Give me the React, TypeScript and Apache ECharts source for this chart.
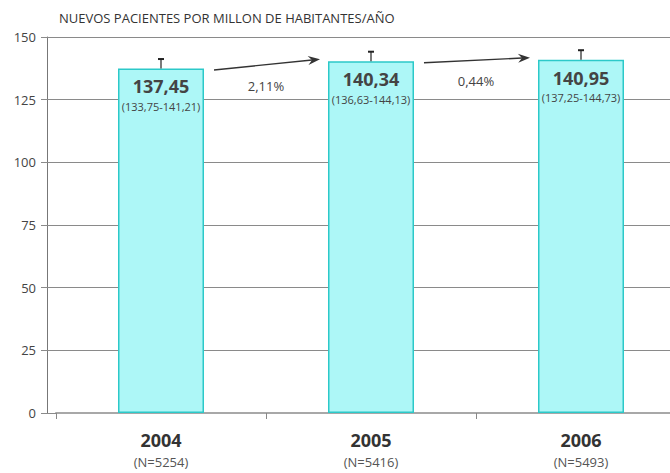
import React, { useEffect, useRef } from "react";
import * as echarts from "echarts";

const years = ["2004", "2005", "2006"];
const nCounts = [5254, 5416, 5493];
const rates = [137.45, 140.34, 140.95];
const ciLow = [133.75, 136.63, 137.25];
const ciHigh = [141.21, 144.13, 144.73];
const pctChange = [2.11, 0.44];
const yMin = 0;
const yMax = 150;
const yStep = 25;
const titleText = "NUEVOS PACIENTES POR MILLON DE HABITANTES/AÑO";

const FONT = "'Open Sans', 'Noto Sans', sans-serif";
const fmt = (v: number) => v.toFixed(2).replace(".", ",");

export default function App() {
  const ref = useRef<HTMLDivElement>(null);
  useEffect(() => {
    if (!ref.current) return;
    const chart = echarts.init(ref.current, undefined, { renderer: "svg" });
    const gridColor = "#8a8a8a";

    const option: any = {
      animation: false,
      backgroundColor: "#ffffff",
      title: {
        text: titleText,
        left: 59,
        top: 11,
        padding: 0,
        textStyle: {
          fontFamily: "'Liberation Sans Narrow', " + FONT,
          fontSize: 13,
          fontWeight: "normal",
          color: "#333",
        },
      },
      grid: {
        left: 56,
        top: 37,
        right: -16,
        bottom: 60,
        containLabel: false,
        outerBoundsMode: "none",
      },
      xAxis: {
        type: "category",
        data: years,
        boundaryGap: true,
        axisLine: { show: true, lineStyle: { color: "#a8a8a8", width: 2 } },
        axisTick: {
          show: true,
          length: 6,
          lineStyle: { color: "#888" },
          interval: 0,
        },
        axisLabel: {
          margin: 15,
          formatter: (v: string, i: number) =>
            `{a|${v}}\n{b|(N=${nCounts[i]})}`,
          rich: {
            a: {
              fontFamily: FONT,
              fontSize: 18,
              fontWeight: "bold",
              color: "#333",
              lineHeight: 24,
              align: "center",
            },
            b: {
              fontFamily: FONT,
              fontSize: 13,
              color: "#555",
              lineHeight: 20,
              align: "center",
            },
          },
        },
      },
      yAxis: [
        {
          type: "value",
          min: yMin,
          max: yMax,
          interval: yStep,
          offset: 9,
          axisLine: { show: true, lineStyle: { color: "#777" } },
          axisTick: { show: true, length: 6, lineStyle: { color: gridColor } },
          axisLabel: {
            margin: 11,
            fontFamily: FONT,
            fontSize: 13,
            color: "#444",
          },
          splitLine: { show: true, lineStyle: { color: gridColor, width: 1 } },
        },
        {
          type: "value",
          min: yMin,
          max: yMax,
          interval: yStep,
          position: "left",
          offset: 0,
          axisLine: { show: false },
          axisTick: { show: true, length: 9, lineStyle: { color: gridColor } },
          axisLabel: { show: false },
          splitLine: { show: false },
        },
      ],
      series: [
        {
          type: "bar",
          data: rates,
          barWidth: 86,
          itemStyle: {
            color: "#adf7f7",
            borderColor: "#2cc9c9",
            borderWidth: 1.5,
          },
          label: {
            show: true,
            position: "insideTop",
            distance: 7,
            formatter: (p: any) =>
              `{a|${fmt(p.value)}}\n{b|(${fmt(ciLow[p.dataIndex])}-${fmt(
                ciHigh[p.dataIndex]
              )})}`,
            rich: {
              a: {
                fontFamily: FONT,
                fontSize: 18,
                fontWeight: "bold",
                color: "#444",
                lineHeight: 22,
                align: "center",
              },
              b: {
                fontFamily: FONT,
                fontSize: 11,
                color: "#444",
                lineHeight: 18,
                align: "center",
              },
            },
          },
          z: 2,
        },
        {
          type: "custom",
          data: rates.map((v, i) => [i, v, ciHigh[i]]),
          z: 3,
          renderItem: (params: any, api: any) => {
            const i = api.value(0);
            const p0 = api.coord([i, api.value(1)]);
            const p1 = api.coord([i, api.value(2)]);
            return {
              type: "group",
              children: [
                {
                  type: "line",
                  shape: { x1: p0[0], y1: p0[1], x2: p1[0], y2: p1[1] },
                  style: { stroke: "#222", lineWidth: 1.2 },
                },
                {
                  type: "line",
                  shape: { x1: p1[0] - 3, y1: p1[1], x2: p1[0] + 3, y2: p1[1] },
                  style: { stroke: "#222", lineWidth: 2 },
                },
              ],
            };
          },
        },
        {
          type: "custom",
          data: pctChange.map((c, i) => [i, rates[i], rates[i + 1], c]),
          z: 4,
          renderItem: (params: any, api: any) => {
            const i = api.value(0);
            const a = api.coord([i, api.value(1)]);
            const b = api.coord([i + 1, api.value(2)]);
            const x1 = a[0] + 53;
            const y1 = a[1] + 1.5;
            const x2 = b[0] - 51;
            const y2 = b[1] - 2;
            const dx = x2 - x1;
            const dy = y2 - y1;
            const len = Math.sqrt(dx * dx + dy * dy);
            const ux = dx / len;
            const uy = dy / len;
            const nx = -uy;
            const ny = ux;
            const hl = 12;
            const hw = 4.5;
            const notch = 8;
            const head = [
              [x2, y2],
              [x2 - ux * hl + nx * hw, y2 - uy * hl + ny * hw],
              [x2 - ux * notch, y2 - uy * notch],
              [x2 - ux * hl - nx * hw, y2 - uy * hl - ny * hw],
            ];
            return {
              type: "group",
              children: [
                {
                  type: "line",
                  shape: {
                    x1,
                    y1,
                    x2: x2 - ux * notch,
                    y2: y2 - uy * notch,
                  },
                  style: { stroke: "#333", lineWidth: 1.4 },
                },
                {
                  type: "polygon",
                  shape: { points: head },
                  style: { fill: "#333" },
                },
                {
                  type: "text",
                  x: (a[0] + b[0]) / 2,
                  y: (y1 + y2) / 2 + 21,
                  style: {
                    text: fmt(api.value(3)) + "%",
                    fill: "#444",
                    fontFamily: FONT,
                    fontSize: 13,
                    align: "center",
                    verticalAlign: "middle",
                  },
                },
              ],
            };
          },
        },
      ],
    };
    chart.setOption(option);
    return () => chart.dispose();
  }, []);

  return (
    <div
      ref={ref}
      style={{ position: "fixed", left: 0, top: 0, width: 670, height: 473 }}
    />
  );
}
